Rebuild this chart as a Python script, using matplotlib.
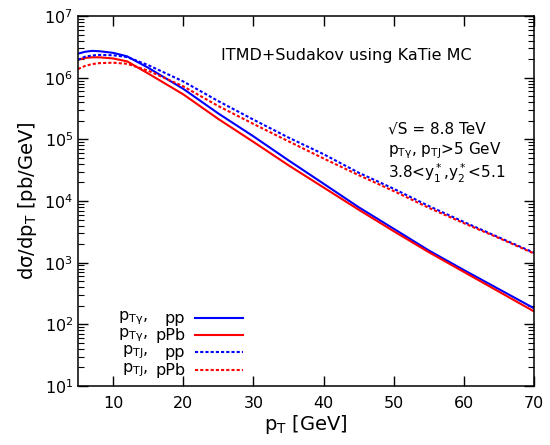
import matplotlib
matplotlib.use("Agg")
import matplotlib.pyplot as plt
from matplotlib.lines import Line2D
from matplotlib.ticker import LogLocator, FixedLocator, NullFormatter

plt.rcParams['mathtext.default'] = 'regular'
plt.rcParams['font.family'] = ['DejaVu Sans']

pt = [5, 6, 7, 8, 10, 12, 15, 20, 25, 30, 35, 40, 45, 50, 55, 60, 65, 70]
gamma_pp = [2.45e6, 2.63e6, 2.72e6, 2.69e6, 2.53e6, 2.22e6, 1.45e6, 6.6e5, 2.63e5, 1.12e5,
            4.57e4, 1.91e4, 7.94e3, 3.55e3, 1.58e3, 759, 372, 182]
gamma_pPb = [1.95e6, 2.09e6, 2.14e6, 2.14e6, 2.05e6, 1.84e6, 1.17e6, 5.37e5, 2.14e5, 9.1e4,
             3.8e4, 1.66e4, 7.24e3, 3.24e3, 1.48e3, 708, 339, 162]
jet_pp = [1.95e6, 2.19e6, 2.29e6, 2.34e6, 2.31e6, 2.16e6, 1.6e6, 8.7e5, 4.17e5, 2.09e5,
          1.07e5, 5.75e4, 2.88e4, 1.58e4, 8.3e3, 4.57e3, 2.57e3, 1.45e3]
jet_pPb = [1.38e6, 1.55e6, 1.66e6, 1.72e6, 1.75e6, 1.68e6, 1.3e6, 7.24e5, 3.47e5, 1.78e5,
           9.3e4, 4.9e4, 2.63e4, 1.45e4, 7.76e3, 4.37e3, 2.51e3, 1.41e3]

legend_labels = [("p$_{T\u03b3}$,", "pp"), ("p$_{T\u03b3}$,", "pPb"),
                 ("p$_{TJ}$,", "pp"), ("p$_{TJ}$,", "pPb")]
x_ticks = [10, 20, 30, 40, 50, 60, 70]

fig = plt.figure(figsize=(5.5, 4.45), dpi=100)
ax = fig.add_axes([0.1418, 0.1326, 0.8291, 0.8314])

dot = (0, (1.5, 1.0))
styles = [('#0000ff', '-'), ('#ff0000', '-'), ('#0000ff', dot), ('#ff0000', dot)]
series = [gamma_pp, gamma_pPb, jet_pp, jet_pPb]
for ys, (c, ls) in zip(series, styles):
    ax.plot(pt, ys, color=c, linestyle=ls, lw=1.5)

ax.set_yscale('log')
ax.set_xlim(5, 70)
ax.set_ylim(10, 1e7)
ax.xaxis.set_major_locator(FixedLocator(x_ticks))
ax.yaxis.set_major_locator(LogLocator(base=10, numticks=10))
ax.yaxis.set_minor_locator(LogLocator(base=10, subs=range(2, 10), numticks=100))
ax.yaxis.set_minor_formatter(NullFormatter())
ax.tick_params(which='both', direction='in', top=True, right=True, labelsize=11.5)
ax.tick_params(which='major', length=7, width=1)
ax.tick_params(which='minor', length=4, width=0.8)
ax.tick_params(axis='x', pad=7)
for s in ax.spines.values():
    s.set_linewidth(1.1)

ax.set_xlabel('p$_T$ [GeV]', fontsize=14, labelpad=2)
ax.set_ylabel('d\u03c3/dp$_T$ [pb/GeV]', fontsize=14, labelpad=4)

ax.text(0.588, 0.892, 'ITMD+Sudakov using KaTie MC', transform=ax.transAxes,
        ha='center', va='center', fontsize=11.5)
ax.text(0.68, 0.695, '\u221aS = 8.8 TeV', transform=ax.transAxes, ha='left', va='center', fontsize=11)
ax.text(0.68, 0.635, 'p$_{T\u03b3}$, p$_{TJ}$>5 GeV', transform=ax.transAxes, ha='left', va='center', fontsize=11)
ax.text(0.68, 0.575, '3.8<y$^*_1$,y$^*_2$<5.1', transform=ax.transAxes, ha='left', va='center', fontsize=11)

# legend (manual, gnuplot style)
row_y = [0.183, 0.137, 0.091, 0.043]
for (l1, l2), yy, (c, ls) in zip(legend_labels, row_y, styles):
    ax.text(0.154, yy, l1, transform=ax.transAxes, ha='right', va='center', fontsize=11.5)
    ax.text(0.235, yy, l2, transform=ax.transAxes, ha='right', va='center', fontsize=11.5)
    ax.add_line(Line2D([0.256, 0.361], [yy, yy], transform=ax.transAxes,
                       color=c, linestyle=ls, lw=1.5))

fig.savefig('out.png', dpi=100)
